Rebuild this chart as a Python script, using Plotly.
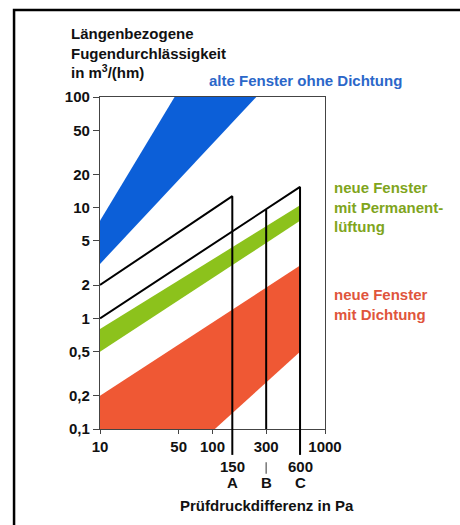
import numpy as np
import plotly.graph_objects as go

# Axis ticks
x_tick_vals = [10, 50, 100, 300, 1000]
x_tick_text = ["10", "50", "100", "300", "1000"]
y_tick_vals = [0.1, 0.2, 0.5, 1, 2, 5, 10, 20, 50, 100]
y_tick_text = ["0,1", "0,2", "0,5", "1", "2", "5", "10", "20", "50", "100"]

# Bands (polygon outlines: pressure in Pa, flow in m3/(hm))
old_x = [10, 10, 46, 245]
old_y = [3.1, 7.6, 100, 100]
vent_x = [10, 600, 600, 10]
vent_y = [0.5, 7.6, 10.5, 0.8]
sealed_x = [10, 10, 600, 600, 105]
sealed_y = [0.1, 0.2, 3.0, 0.5, 0.1]

# Class limit lines (Beanspruchungsgruppen A, B, C)
class_names = ["A", "B", "C"]
class_pressures = [150, 300, 600]
line_upper_x = [10, 150, 150]
line_upper_y = [2, 12.7, 0.1]
line_lower_x = [10, 600, 600]
line_lower_y = [1, 15.4, 0.1]
line_b_x = [300, 300]
line_b_y = [9.6, 0.1]

FONT = "Liberation Sans, Arial, Helvetica, sans-serif"
BLUE = "#0c5fd8"
GREEN = "#8cc21c"
RED = "#ef5834"
FS = 15


def bold(color="#111", size=FS):
    return dict(family=FONT, size=size, color=color, weight="bold")


fig = go.Figure()
for xs, ys, col in [(old_x, old_y, BLUE), (vent_x, vent_y, GREEN), (sealed_x, sealed_y, RED)]:
    fig.add_trace(go.Scatter(x=xs, y=ys, fill="toself", fillcolor=col, mode="lines",
                             line=dict(width=0), hoverinfo="skip", showlegend=False))
for xs, ys in [(line_upper_x, line_upper_y), (line_lower_x, line_lower_y), (line_b_x, line_b_y)]:
    fig.add_trace(go.Scatter(x=xs, y=ys, mode="lines", line=dict(color="black", width=2),
                             hoverinfo="skip", showlegend=False))

# Extensions of the A and C lines below the axis, plus the small B marker
for name, p in zip(class_names, class_pressures):
    if name == "B":
        fig.add_shape(type="line", xref="x", yref="paper", x0=p, x1=p, y0=-0.10, y1=-0.135,
                      line=dict(color="#777", width=1.5))
    else:
        fig.add_shape(type="line", xref="x", yref="paper", x0=p, x1=p, y0=0, y1=-0.078,
                      line=dict(color="black", width=2))
        fig.add_annotation(x=np.log10(p), xref="x", y=-0.114, yref="paper", text=str(p),
                           xanchor="center", yanchor="middle", showarrow=False, font=bold())
    fig.add_annotation(x=np.log10(p), xref="x", y=-0.16, yref="paper", text=name,
                       xanchor="center", yanchor="middle", showarrow=False, font=bold())

# Outer frame (left and top edges)
fig.add_shape(type="path", xref="paper", yref="paper",
              path="M -0.382,-0.4 L -0.382,1.262 L 1.8,1.262",
              line=dict(color="black", width=2.5))

fig.add_annotation(x=0.742, y=-0.229, xref="paper", yref="paper", xanchor="center", yanchor="middle",
                   text="Prüfdruckdifferenz in Pa", showarrow=False, font=bold())
fig.add_annotation(x=-0.14, y=1.133, xref="paper", yref="paper", xanchor="left", yanchor="middle",
                   align="left",
                   text="Längenbezogene<br>Fugendurchlässigkeit<br>in m<sup>3</sup>/(hm)",
                   showarrow=False, font=bold())

fig.add_annotation(x=0.474, y=1.051, xref="paper", yref="paper", xanchor="left", yanchor="middle",
                   text="alte Fenster ohne Dichtung", showarrow=False, font=bold("#2b67c9"))
fig.add_annotation(x=1.03, y=0.669, xref="paper", yref="paper", xanchor="left", yanchor="middle",
                   align="left", text="neue Fenster<br>mit Permanent-<br>lüftung", showarrow=False,
                   font=bold("#7fa51d"))
fig.add_annotation(x=1.03, y=0.3765, xref="paper", yref="paper", xanchor="left", yanchor="middle",
                   align="left", text="neue Fenster<br>mit Dichtung", showarrow=False,
                   font=bold("#e0553c"))

fig.update_xaxes(type="log", range=[1, 3], tickvals=x_tick_vals, ticktext=x_tick_text,
                 ticks="outside", ticklen=4, tickcolor="#444", showgrid=False, zeroline=False,
                 showline=True, linecolor="#444", linewidth=1.2, mirror=True, tickfont=bold())
fig.update_yaxes(type="log", range=[-1, 2], tickvals=y_tick_vals, ticktext=y_tick_text,
                 ticks="outside", ticklen=6, tickcolor="#444", showgrid=False, zeroline=False,
                 showline=True, linecolor="#444", linewidth=1.2, mirror=True, tickfont=bold())

fig.update_layout(width=460, height=525, margin=dict(l=100, r=135, t=97, b=96),
                  paper_bgcolor="white", plot_bgcolor="white", showlegend=False)

fig.write_html("out.html")
